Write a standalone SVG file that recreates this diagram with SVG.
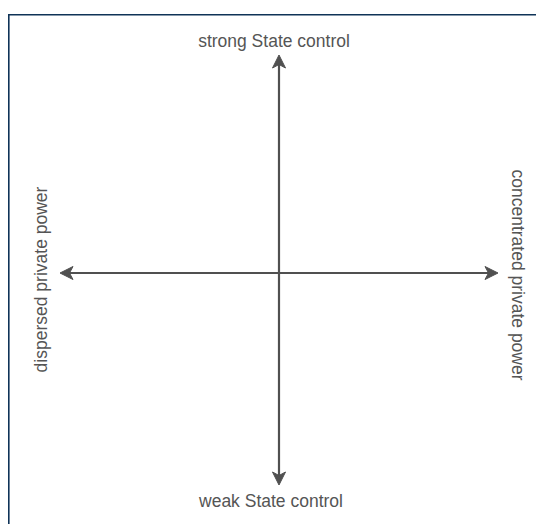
<svg xmlns="http://www.w3.org/2000/svg" width="536" height="524" viewBox="0 0 536 524">
  <defs>
    <style>
      .frame { fill: none; stroke: #0f3357; stroke-width: 1.6; }
      .axis { fill: none; stroke: #505050; stroke-width: 2.2; }
      .head { fill: #505050; stroke: #505050; stroke-width: 1; stroke-linejoin: miter; }
      .label { font-family: "Liberation Sans", Arial, sans-serif; font-size: 17.5px; fill: #555555; }
    </style>
    <!-- classic notched arrowhead, tip at origin, pointing along +x -->
    <path id="arrowhead" class="head" d="M 0 0 L -13 -6.5 L -9.5 0 L -13 6.5 Z"/>
  </defs>

  <rect width="536" height="524" fill="#ffffff"/>

  <!-- page frame: top and left edges -->
  <path class="frame" d="M 8.8 524 L 8.8 14.8 L 536 14.8"/>

  <g id="connectors">
    <line class="axis" x1="279" y1="64" x2="279" y2="476"/>
    <line class="axis" x1="69" y1="273" x2="489" y2="273"/>
    <use href="#arrowhead" transform="translate(279 55) rotate(-90)"/>
    <use href="#arrowhead" transform="translate(279 485) rotate(90)"/>
    <use href="#arrowhead" transform="translate(60 273) rotate(180)"/>
    <use href="#arrowhead" transform="translate(498 273)"/>
  </g>

  <g id="node-strong">
    <text class="label" x="274" y="47" text-anchor="middle">strong State control</text>
  </g>
  <g id="node-weak">
    <text class="label" x="271" y="506.5" text-anchor="middle">weak State control</text>
  </g>
  <g id="node-dispersed">
    <text class="label" transform="translate(46.5 279.5) rotate(-90)" text-anchor="middle">dispersed private power</text>
  </g>
  <g id="node-concentrated">
    <text class="label" transform="translate(511.5 275) rotate(90)" text-anchor="middle">concentrated private power</text>
  </g>
</svg>
